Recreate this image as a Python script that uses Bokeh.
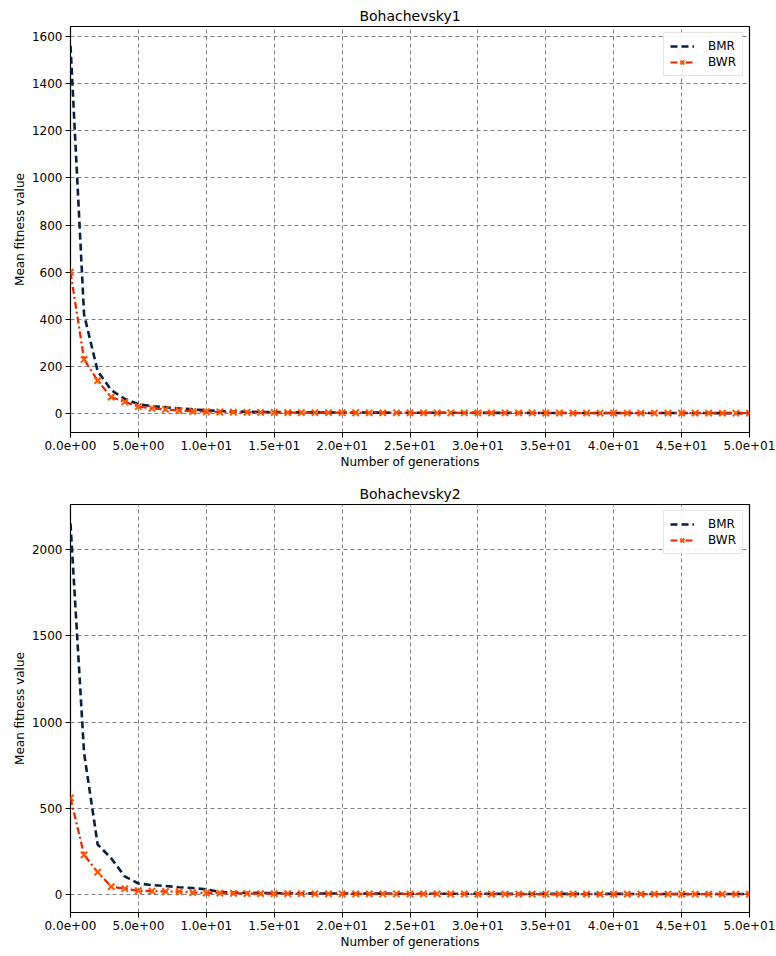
from bokeh.plotting import figure
from bokeh.models import Range1d, FixedTicker, CustomJSTickFormatter, Legend, LegendItem
from bokeh.layouts import column
from bokeh.embed import file_html
from bokeh.resources import INLINE

generations = list(range(51))

bmr1 = [1560, 420, 180, 100, 62, 40, 32, 27, 22, 18,
        14, 11, 9, 8, 7, 6.5, 6, 5.5, 5.2, 5,
        4.8, 4.6, 4.4, 4.2, 4, 3.9, 3.8, 3.7, 3.6, 3.5,
        3.4, 3.3, 3.2, 3.1, 3, 3, 2.9, 2.9, 2.8, 2.8,
        2.7, 2.7, 2.6, 2.6, 2.5, 2.5, 2.4, 2.4, 2.3, 2.3, 2.2]
bwr1 = [600, 230, 140, 70, 50, 30, 22, 18, 13, 10,
        8, 7, 6, 5.5, 5, 4.8, 4.6, 4.4, 4.2, 4,
        3.9, 3.8, 3.7, 3.6, 3.5, 3.4, 3.3, 3.2, 3.1, 3,
        3, 2.9, 2.9, 2.8, 2.8, 2.7, 2.7, 2.6, 2.6, 2.5,
        2.5, 2.4, 2.4, 2.3, 2.3, 2.2, 2.2, 2.1, 2.1, 2, 2]

bmr2 = [2150, 820, 290, 210, 105, 64, 55, 50, 42, 38,
        30, 15, 12, 10, 9, 8, 7.5, 7, 6.5, 6,
        5.8, 5.6, 5.4, 5.2, 5, 4.9, 4.8, 4.7, 4.6, 4.5,
        4.4, 4.3, 4.2, 4.1, 4, 4, 3.9, 3.9, 3.8, 3.8,
        3.7, 3.7, 3.6, 3.6, 3.5, 3.5, 3.4, 3.4, 3.3, 3.3, 3.2]
bwr2 = [560, 230, 130, 46, 34, 22, 20, 18, 17, 12,
        9, 8, 7, 6, 5.5, 5.2, 5, 4.8, 4.6, 4.4,
        4.2, 4, 3.9, 3.8, 3.7, 3.6, 3.5, 3.4, 3.3, 3.2,
        3.1, 3, 3, 2.9, 2.9, 2.8, 2.8, 2.7, 2.7, 2.6,
        2.6, 2.5, 2.5, 2.4, 2.4, 2.3, 2.3, 2.2, 2.2, 2.1, 2.1]

x_ticks = [0, 5, 10, 15, 20, 25, 30, 35, 40, 45, 50]
y_ticks1 = [0, 200, 400, 600, 800, 1000, 1200, 1400, 1600]
y_ticks2 = [0, 500, 1000, 1500, 2000]

FONT = "DejaVu Sans"
BMR_COLOR = "#0a1f3f"
BWR_LINE = "#e42800"
BWR_MARK = "#ff5500"

fmt = CustomJSTickFormatter(code="""
const s = tick.toExponential(1);
const parts = s.split('e');
const sign = parts[1][0];
const d = parts[1].slice(1).padStart(2, '0');
return parts[0] + 'e' + sign + d;
""")


def make_plot(title, bmr, bwr, y_ticks, y_range, height, top, bottom, right):
    p = figure(width=776, height=height, output_backend="svg", toolbar_location=None,
               x_range=Range1d(0, 50), y_range=Range1d(*y_range),
               min_border_left=70, min_border_right=right,
               min_border_top=top, min_border_bottom=bottom)
    p.title.text = title
    p.title.align = "center"
    p.title.text_font = FONT
    p.title.text_font_style = "normal"
    p.title.text_font_size = "14px"
    p.title.text_color = "black"
    p.title.offset = 0
    p.title.standoff = 6

    p.outline_line_color = "black"
    p.outline_line_width = 1.2
    p.outline_line_alpha = 1

    for ax in (p.xaxis[0], p.yaxis[0]):
        ax.axis_line_color = None
        ax.major_tick_out = 5
        ax.major_tick_in = 0
        ax.major_tick_line_color = "black"
        ax.minor_tick_line_color = None
        ax.major_label_text_font = FONT
        ax.major_label_text_font_size = "12px"
        ax.major_label_text_color = "black"
        ax.major_label_standoff = 3
        ax.axis_label_text_font = FONT
        ax.axis_label_text_font_style = "normal"
        ax.axis_label_text_font_size = "12px"
        ax.axis_label_text_color = "black"
        ax.axis_label_standoff = 2

    p.xaxis.ticker = FixedTicker(ticks=x_ticks)
    p.xaxis.formatter = fmt
    p.yaxis.ticker = FixedTicker(ticks=y_ticks)
    p.xaxis.axis_label = "Number of generations"
    p.yaxis.axis_label = "Mean fitness value"

    for g in (p.xgrid[0], p.ygrid[0]):
        g.grid_line_color = "#808080"
        g.grid_line_dash = "4 3"
        g.grid_line_width = 1

    r1 = p.line(generations, bmr, line_color=BMR_COLOR, line_width=2.6, line_dash="7 4")
    r2 = p.line(generations, bwr, line_color=BWR_LINE, line_width=2.2, line_dash="7 3 2 3")
    r3 = p.scatter(generations, bwr, marker="x", size=9, line_color=BWR_MARK, line_width=2)

    legend = Legend(items=[LegendItem(label="BMR", renderers=[r1]),
                           LegendItem(label="BWR", renderers=[r2, r3])],
                    location="top_right")
    legend.label_text_font = FONT
    legend.label_text_font_size = "12px"
    legend.label_text_color = "black"
    legend.border_line_color = "#cccccc"
    legend.border_line_width = 1
    legend.background_fill_alpha = 0.9
    legend.glyph_width = 24
    legend.glyph_height = 14
    legend.spacing = 2
    legend.padding = 6
    legend.margin = 6
    legend.label_standoff = 14
    p.add_layout(legend)
    return p


p1 = make_plot("Bohachevsky1", bmr1, bwr1, y_ticks1, (-80, 1642), 480, 26, 48, 27)
p2 = make_plot("Bohachevsky2", bmr2, bwr2, y_ticks2, (-104, 2261), 472, 24, 40, 22)

layout = column(p1, p2, spacing=0)
open("out.html", "w").write(file_html(layout, INLINE))
